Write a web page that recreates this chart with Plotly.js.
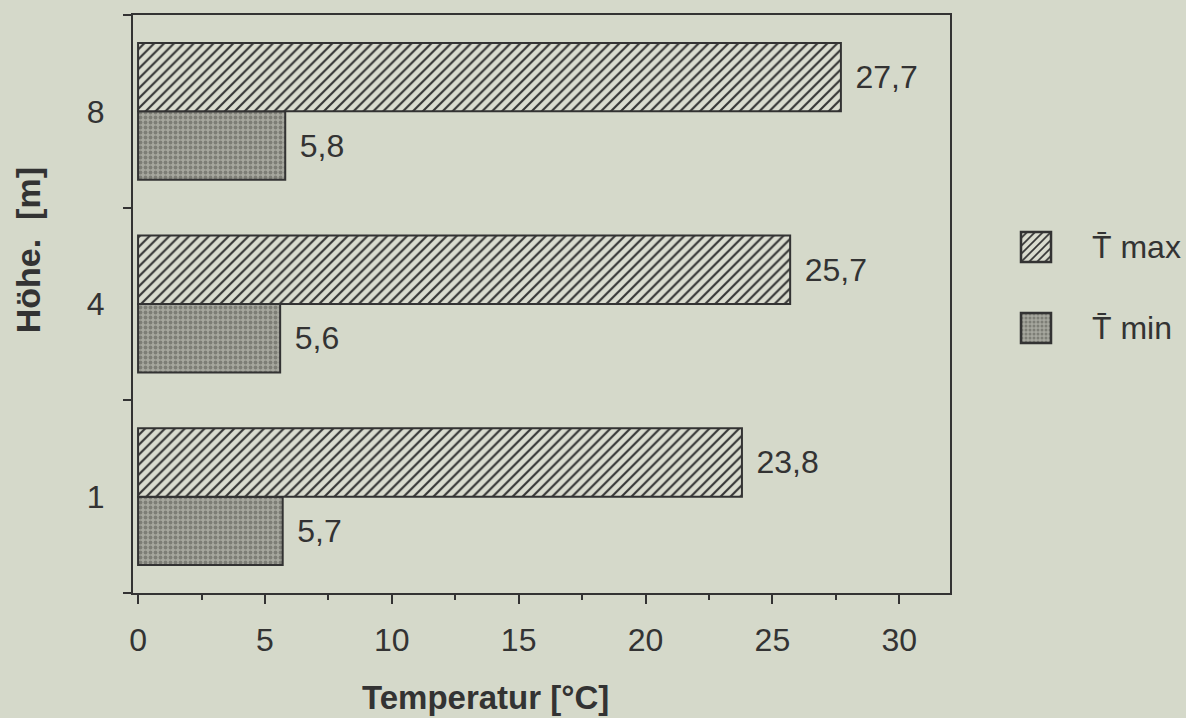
<!DOCTYPE html>
<html>
<head>
<meta charset="utf-8">
<script src="https://cdn.plot.ly/plotly-3.0.1.min.js"></script>
<style>
  html, body { margin: 0; padding: 0; background: #d5d9ca; }
  #chart { width: 1186px; height: 718px; }
</style>
</head>
<body>
<div id="chart"></div>
<script>
// Data
const heights = ['1', '4', '8'];
const tMax = [23.8, 25.7, 27.7];
const tMin = [5.7, 5.6, 5.8];
const seriesNames = ['T\u0304 max', 'T\u0304 min'];
const xTickVals = [0, 5, 10, 15, 20, 25, 30];

const bg = '#d5d9ca';
const ink = '#333333';
const fontFam = '"Liberation Sans", Arial, Helvetica, sans-serif';
const legendFontSize = 32;

const traceMin = {
  type: 'bar', orientation: 'h',
  name: seriesNames[1], legendgroup: 'min',
  y: heights, x: tMin,
  texttemplate: '\u00a0\u200a%{x:.1f}', textposition: 'outside',
  textfont: {family: fontFam, size: 32, color: ink},
  cliponaxis: false,
  marker: {
    color: '#a3a49b',
    line: {color: ink, width: 2},
    pattern: {shape: '.', fgcolor: '#7d7e76', bgcolor: '#a6a79e', size: 5, solidity: 0.45, fillmode: 'replace'}
  },
  hoverinfo: 'none'
};
const traceMax = {
  type: 'bar', orientation: 'h',
  name: seriesNames[0], legendgroup: 'max',
  y: heights, x: tMax,
  texttemplate: '\u00a0\u200a%{x:.1f}', textposition: 'outside',
  textfont: {family: fontFam, size: 32, color: ink},
  cliponaxis: false,
  marker: {
    color: bg,
    line: {color: ink, width: 2},
    pattern: {shape: '/', fgcolor: ink, bgcolor: '#dadccf', size: 7, solidity: 0.3, fillmode: 'replace'}
  },
  hoverinfo: 'none'
};

const layout = {
  width: 1186, height: 718,
  paper_bgcolor: bg, plot_bgcolor: bg,
  margin: {l: 133, r: 236, t: 15, b: 125},
  separators: ',.',
  barmode: 'group', bargap: 0.29, bargroupgap: 0,
  font: {family: fontFam, color: ink, size: 32},
  showlegend: true,
  legend: {
    x: 1.005, xanchor: 'left', y: 0.53, yanchor: 'middle',
    traceorder: 'grouped', tracegroupgap: 38,
    itemwidth: 30, bgcolor: 'rgba(0,0,0,0)',
    font: {family: fontFam, size: legendFontSize, color: ink}
  },
  xaxis: {
    range: [-0.2, 32], tickvals: xTickVals,
    ticks: 'outside', ticklen: 9, tickwidth: 2, tickcolor: ink,
    minor: {dtick: 2.5, tick0: 0, ticks: 'outside', ticklen: 5, tickwidth: 2, tickcolor: ink},
    showline: true, mirror: true, linewidth: 2, linecolor: ink,
    showgrid: false, zeroline: false,
    ticklabelstandoff: 9,
    tickfont: {family: fontFam, size: 32, color: ink}
  },
  yaxis: {
    type: 'category', categoryorder: 'array', categoryarray: heights,
    tickson: 'boundaries', ticks: 'outside', ticklen: 8, tickwidth: 2, tickcolor: ink,
    showline: true, mirror: true, linewidth: 2, linecolor: ink,
    showgrid: false, zeroline: false,
    ticklabelstandoff: 20,
    tickfont: {family: fontFam, size: 32, color: ink}
  },
  annotations: [
    {text: '<b>Temperatur [°C]</b>', xref: 'paper', yref: 'paper', x: 0.431, y: -0.18,
     xanchor: 'center', yanchor: 'middle', showarrow: false,
     font: {family: fontFam, size: 33, color: ink}},
    {text: '<b>Höhe.\u00a0 [m]</b>', xref: 'paper', yref: 'paper', x: -0.1285, y: 0.593,
     xanchor: 'center', yanchor: 'middle', showarrow: false, textangle: -90,
     font: {family: fontFam, size: 34, color: ink}}
  ]
};

function placeLegend() {
  const root = document.getElementById('chart');
  const origin = root.getBoundingClientRect();
  root.querySelectorAll('.legend [clip-path]').forEach(function (e) { e.removeAttribute('clip-path'); });
  const legend = root.querySelector('.legend');
  if (legend) legend.removeAttribute('clip-path');
  const targets = {'T\u0304 max': 247, 'T\u0304 min': 328};
  root.querySelectorAll('.legend .traces').forEach(function (g) {
    const txt = g.querySelector('text.legendtext');
    if (!txt) return;
    const key = txt.textContent.trim();
    const ty = targets[key];
    if (ty === undefined) return;
    const r = txt.getBoundingClientRect();
    const capCenter = r.bottom - origin.top - 0.57 * legendFontSize;
    const dx = 1092 - (r.left - origin.left);
    const dy = ty - capCenter;
    const old = g.getAttribute('transform') || '';
    g.setAttribute('transform', old + ' translate(' + dx + ',' + dy + ')');
    const path = g.querySelector('.legendpoints path');
    if (path) {
      path.setAttribute('d', 'M15,15H-15V-15H15Z');
      path.style.strokeWidth = '2.5px';
      const pr = path.getBoundingClientRect();
      const pcx = (pr.left + pr.right) / 2 - origin.left;
      const pcy = (pr.top + pr.bottom) / 2 - origin.top;
      const pold = path.getAttribute('transform') || '';
      path.setAttribute('transform', pold + ' translate(' + (1036 - pcx) + ',' + (ty - pcy) + ')');
    }
  });
}

Plotly.newPlot('chart', [traceMin, traceMax], layout, {staticPlot: true, displayModeBar: false}).then(placeLegend);
</script>
</body>
</html>
